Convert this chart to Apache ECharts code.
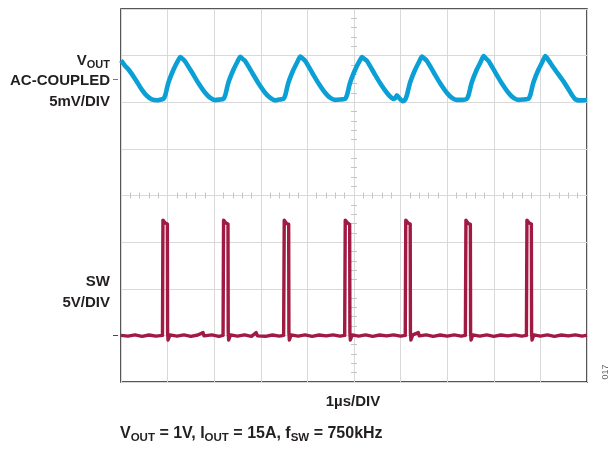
<!DOCTYPE html>
<html>
<head>
<meta charset="utf-8">
<script src="https://cdn.jsdelivr.net/npm/echarts@6/dist/echarts.min.js"></script>
<style>
html,body{margin:0;padding:0;background:#fff;}
#chart{width:613px;height:450px;}
</style>
</head>
<body>
<div id="chart"></div>
<script>
// Time axis: microseconds (1 µs/DIV, 10 divisions)
// VOUT (AC-coupled), mV, 5 mV/DIV
const timeVout = [0.00,0.08,0.17,0.31,0.45,0.56,0.66,0.78,0.86,
  0.908,0.951,1.015,1.123,1.209,1.273,1.323,1.380,1.531,1.659,1.810,1.917,2.02,2.11,
  2.195,2.238,2.302,2.410,2.496,2.560,2.610,2.667,2.818,2.946,3.097,3.204,3.31,3.40,
  3.483,3.526,3.590,3.698,3.784,3.848,3.898,3.955,4.106,4.234,4.385,4.492,4.60,4.72,
  4.807,4.850,4.914,5.022,5.108,5.172,5.222,5.279,5.430,5.558,5.709,5.80,5.87,5.92,5.97,6.05,
  6.10,6.137,6.201,6.309,6.395,6.459,6.509,6.566,6.717,6.845,6.996,7.103,7.20,7.32,
  7.416,7.459,7.523,7.631,7.717,7.781,7.831,7.888,8.039,8.167,8.318,8.425,8.53,8.65,
  8.740,8.783,8.847,8.955,9.041,9.105,9.155,9.284,9.499,9.678,9.749,9.85,10.0];
const voutMv = [1.98,1.45,0.96,-0.05,-1.18,-1.83,-2.18,-2.28,-2.2,
  -2.15,-1.72,-0.43,0.96,1.82,2.35,2.15,1.85,0.64,-0.43,-1.51,-2.04,-2.27,-2.22,
  -2.15,-1.72,-0.43,0.96,1.82,2.38,2.15,1.9,0.64,-0.43,-1.51,-2.04,-2.3,-2.2,
  -2.15,-1.72,-0.43,0.96,1.82,2.4,2.2,1.92,0.64,-0.43,-1.51,-2.04,-2.25,-2.2,
  -2.15,-1.72,-0.43,0.96,1.82,2.35,2.15,1.92,0.64,-0.43,-1.51,-2.0,-2.15,-1.75,-2.05,-2.4,
  -2.2,-1.72,-0.43,0.96,1.82,2.4,2.2,1.92,0.64,-0.43,-1.51,-2.04,-2.25,-2.25,
  -2.15,-1.72,-0.43,0.96,1.82,2.45,2.2,1.92,0.64,-0.43,-1.51,-2.04,-2.25,-2.2,
  -2.15,-1.72,-0.43,0.96,1.82,2.45,2.15,1.2,-0.29,-1.72,-2.18,-2.3,-2.25];

// SW node, volts, 5 V/DIV
const timeSw = [0.00,0.15,0.30,0.45,0.60,0.75,0.89,
  0.896,0.900,0.930,0.950,0.995,1.000,1.010,1.05,1.20,1.35,1.50,1.65,1.76,1.78,1.95,2.10,2.19,
  2.197,2.201,2.231,2.251,2.296,2.301,2.311,2.35,2.50,2.65,2.80,2.90,2.93,3.10,3.25,3.40,3.49,
  3.499,3.503,3.533,3.553,3.598,3.603,3.613,3.65,3.80,3.95,4.10,4.25,4.40,4.55,4.70,4.80,
  4.808,4.812,4.842,4.862,4.907,4.912,4.922,4.96,5.10,5.25,5.40,5.55,5.70,5.85,6.00,6.10,
  6.107,6.111,6.141,6.161,6.206,6.211,6.221,6.26,6.38,6.40,6.55,6.70,6.85,7.00,7.15,7.30,7.39,
  7.398,7.402,7.432,7.452,7.497,7.502,7.512,7.55,7.70,7.85,8.00,8.15,8.30,8.45,8.60,8.70,
  8.707,8.711,8.741,8.761,8.806,8.811,8.821,8.86,9.00,9.15,9.30,9.45,9.60,9.75,9.90,10.0];
const swV = [0,-0.08,0.05,-0.1,0.04,-0.08,0,
  0.2,12.35,12.35,12.05,11.95,0.3,-0.5,0.05,-0.08,0.05,-0.1,0.04,0.3,-0.05,0.05,-0.1,0,
  0.2,12.35,12.3,12.05,11.95,0.3,-0.5,0.05,-0.08,0.06,-0.1,0.3,-0.05,-0.1,0.04,-0.08,0,
  0.2,12.35,12.3,12.0,11.9,0.3,-0.5,0.05,-0.08,0.05,-0.1,0.04,-0.06,0.05,-0.08,0,
  0.2,12.35,12.3,12.05,11.9,0.3,-0.5,0.05,-0.08,0.05,-0.1,0.04,-0.06,0.05,-0.08,0,
  0.2,12.35,12.35,12.05,11.95,0.3,-0.5,0.05,0.3,-0.05,0.05,-0.1,0.04,-0.08,0.05,-0.08,0,
  0.2,12.35,12.3,12.0,11.9,0.3,-0.5,0.05,-0.08,0.05,-0.1,0.04,-0.06,0.05,-0.08,0,
  0.2,12.35,12.35,12.05,11.95,0.3,-0.5,0.05,-0.08,0.05,-0.1,0.04,-0.06,0.05,-0.08,0.02];

const BLUE = '#0a9fd5';
const RED = '#a11a43';
const GRID = '#d9d9d9';
const TICK = '#c4c4c4';
const FONT = '"Liberation Sans", Arial, sans-serif';
const TXT = '#231f20';

const voutData = timeVout.map((t, i) => [t, voutMv[i]]);
const swData = timeSw.map((t, i) => [t, swV[i]]);

const hidden = {show: false};
function tickAxis(inside) {
  return {
    type: 'value', min: 0, max: 10, interval: 1,
    axisLine: {show: false, onZero: true, onZeroAxisIndex: 0},
    axisTick: {show: false, inside: inside},
    minorTick: {show: true, splitNumber: 5, length: 3, lineStyle: {color: TICK, width: 1}},
    axisLabel: hidden, splitLine: hidden, minorSplitLine: hidden
  };
}

const chart = echarts.init(document.getElementById('chart'), null, {renderer: 'canvas'});
chart.setOption({
  animation: false,
  backgroundColor: '#fff',
  grid: {left: 121, top: 9, right: 26, bottom: 68, show: true, borderColor: '#1f1f1f', borderWidth: 1.5,
         backgroundColor: 'transparent', containLabel: false, outerBoundsMode: 'none'},
  xAxis: [
    {type: 'value', min: 0, max: 10, interval: 1,
     axisLine: {show: false, onZero: false}, axisTick: hidden, axisLabel: hidden,
     splitLine: {show: true, lineStyle: {color: GRID, width: 1}}},
    {type: 'value', min: -5, max: 5, interval: 1, show: true,
     axisLine: {show: false, onZero: false}, axisTick: hidden, axisLabel: hidden, splitLine: hidden},
    tickAxis(true),
    tickAxis(false)
  ],
  yAxis: [
    {type: 'value', min: -4, max: 4, interval: 1,
     axisLine: {show: false, onZero: false}, axisTick: hidden, axisLabel: hidden,
     splitLine: {show: true, lineStyle: {color: GRID, width: 1}}},
    {type: 'value', min: -5, max: 35, position: 'left', offset: 3,
     axisLine: {show: false, onZero: false},
     axisTick: {show: true, customValues: [0], length: 5, lineStyle: {color: RED, width: 1}},
     axisLabel: hidden, splitLine: hidden},
    {type: 'value', min: -32.5, max: 7.5, position: 'left', offset: 3,
     axisLine: {show: false, onZero: false},
     axisTick: {show: true, customValues: [0], length: 5, lineStyle: {color: BLUE, width: 1}},
     axisLabel: hidden, splitLine: hidden},
    {type: 'value', min: -4, max: 4, interval: 1,
     axisLine: {show: false, onZero: true, onZeroAxisIndex: 1},
     axisTick: {show: false, inside: true},
     minorTick: {show: true, splitNumber: 5, length: 3, lineStyle: {color: TICK, width: 1}},
     axisLabel: hidden, splitLine: hidden},
    {type: 'value', min: -4, max: 4, interval: 1,
     axisLine: {show: false, onZero: true, onZeroAxisIndex: 1},
     axisTick: {show: false, inside: false},
     minorTick: {show: true, splitNumber: 5, length: 3, lineStyle: {color: TICK, width: 1}},
     axisLabel: hidden, splitLine: hidden}
  ],
  series: [
    {type: 'line', name: 'SW', xAxisIndex: 0, yAxisIndex: 1, data: swData,
     showSymbol: false, symbol: 'none', lineStyle: {color: RED, width: 3.4, join: 'round'}, z: 3},
    {type: 'line', name: 'VOUT', xAxisIndex: 0, yAxisIndex: 2, data: voutData,
     showSymbol: false, symbol: 'none', smooth: 0.2, lineStyle: {color: BLUE, width: 4.6, join: 'round'}, z: 3}
  ],
  graphic: [
    {type: 'text', x: 110, y: 61, style: {text: '{v|V}{s|OUT}', align: 'right', verticalAlign: 'middle',
      rich: {v: {fontSize: 15, fontWeight: 'bold', fontFamily: FONT, fill: TXT},
             s: {fontSize: 11, fontWeight: 'bold', fontFamily: FONT, fill: TXT, padding: [8, 0, 0, 0]}}}},
    {type: 'text', x: 110, y: 81, style: {text: 'AC-COUPLED', align: 'right', verticalAlign: 'middle',
      font: 'bold 15px ' + FONT, fill: TXT}},
    {type: 'text', x: 110, y: 101.5, style: {text: '5mV/DIV', align: 'right', verticalAlign: 'middle',
      font: 'bold 15px ' + FONT, fill: TXT}},
    {type: 'text', x: 110, y: 281.5, style: {text: 'SW', align: 'right', verticalAlign: 'middle',
      font: 'bold 15px ' + FONT, fill: TXT}},
    {type: 'text', x: 110, y: 302.5, style: {text: '5V/DIV', align: 'right', verticalAlign: 'middle',
      font: 'bold 15px ' + FONT, fill: TXT}},
    {type: 'text', x: 353, y: 402, style: {text: '1µs/DIV', align: 'center', verticalAlign: 'middle',
      font: 'bold 15px ' + FONT, fill: TXT}},
    {type: 'text', x: 120, y: 434, style: {
      text: '{v|V}{s|OUT}{v| = 1V, I}{s|OUT}{v| = 15A, f}{s|SW}{v| = 750kHz}',
      align: 'left', verticalAlign: 'middle',
      rich: {v: {fontSize: 16, fontWeight: 'bold', fontFamily: FONT, fill: TXT},
             s: {fontSize: 11.5, fontWeight: 'bold', fontFamily: FONT, fill: TXT, padding: [8, 0, 0, 0]}}}},
    {type: 'text', x: 606, y: 372, rotation: Math.PI / 2, style: {text: '017', align: 'center', verticalAlign: 'middle',
      font: '9px ' + FONT, fill: '#666'}}
  ]
});
</script>
</body>
</html>
